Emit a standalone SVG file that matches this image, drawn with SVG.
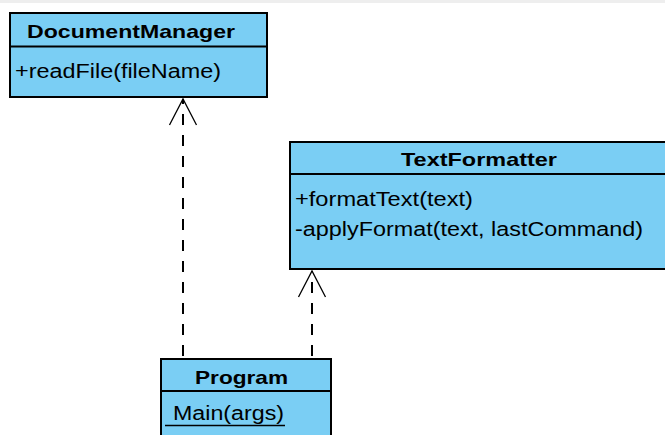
<svg xmlns="http://www.w3.org/2000/svg" width="665" height="435" viewBox="0 0 665 435">
  <style>
    .box { fill: #7ACEF4; stroke: #000; stroke-width: 2; }
    .sep { stroke: #000; stroke-width: 2; }
    .title { font-family: "Liberation Sans", Arial, sans-serif; font-size: 19px; font-weight: bold; fill: #000; }
    .member { font-family: "Liberation Sans", Arial, sans-serif; font-size: 19.5px; fill: #000; }
    .dep { fill: none; stroke: #000; stroke-width: 2; stroke-dasharray: 11 10; }
    .head { fill: none; stroke: #000; stroke-width: 1.3; }
  </style>

  <rect x="0" y="0" width="665" height="435" fill="#fff"/>
  <rect x="0" y="0" width="665" height="3" fill="#eeeeee"/>

  <!-- dependency connectors with open arrowheads -->
  <g id="connectors">
    <path class="dep" d="M183 356 V99"/>
    <polyline class="head" points="169.5,125 183,99 196.5,125"/>
    <path class="dep" d="M312 356 V271"/>
    <polyline class="head" points="298.5,297 312,271 325.5,297"/>
  </g>

  <g id="DocumentManager">
    <rect class="box" x="10" y="13" width="257" height="84"/>
    <line class="sep" x1="10" y1="46.5" x2="267" y2="46.5"/>
    <text class="title" x="27" y="37.5" textLength="208" lengthAdjust="spacingAndGlyphs">DocumentManager</text>
    <text class="member" x="15" y="77.5" textLength="206" lengthAdjust="spacingAndGlyphs">+readFile(fileName)</text>
  </g>

  <g id="TextFormatter">
    <rect class="box" x="290" y="142" width="390" height="127"/>
    <line class="sep" x1="290" y1="174" x2="680" y2="174"/>
    <text class="title" x="401" y="165.5" textLength="156" lengthAdjust="spacingAndGlyphs">TextFormatter</text>
    <text class="member" x="295" y="206" textLength="178" lengthAdjust="spacingAndGlyphs">+formatText(text)</text>
    <text class="member" x="295" y="236" textLength="348" lengthAdjust="spacingAndGlyphs">-applyFormat(text, lastCommand)</text>
  </g>

  <g id="Program">
    <rect class="box" x="161" y="359" width="170" height="90"/>
    <line class="sep" x1="161" y1="391" x2="331" y2="391"/>
    <text class="title" x="195" y="383.5" textLength="93" lengthAdjust="spacingAndGlyphs">Program</text>
    <text class="member" x="173" y="419.5" textLength="111" lengthAdjust="spacingAndGlyphs">Main(args)</text>
    <line x1="165" y1="425.5" x2="285" y2="425.5" stroke="#000" stroke-width="1.5"/>
  </g>
</svg>
